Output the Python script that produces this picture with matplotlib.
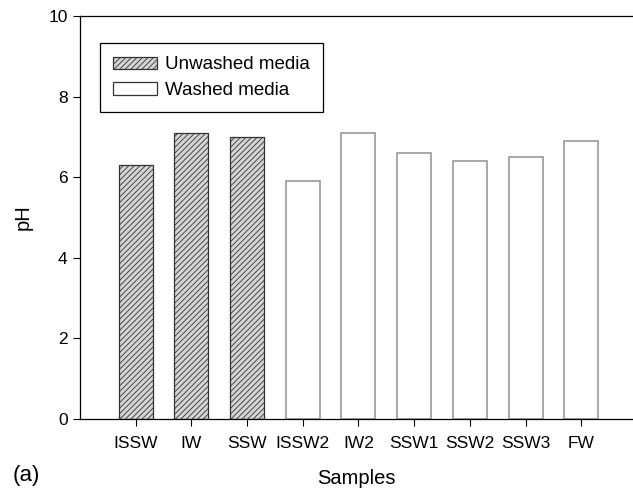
import matplotlib
matplotlib.use("Agg")
import matplotlib.pyplot as plt
from matplotlib.patches import Patch

plt.rcParams["font.family"] = ["Liberation Sans", "DejaVu Sans"]
plt.rcParams["hatch.linewidth"] = 0.6
plt.rcParams["hatch.color"] = "#3a3a3a"

# --- data ---
unwashed_samples = ["ISSW", "IW", "SSW"]
unwashed_ph = [6.3, 7.1, 7.0]
washed_samples = ["ISSW2", "IW2", "SSW1", "SSW2", "SSW3", "FW"]
washed_ph = [5.9, 7.1, 6.6, 6.4, 6.5, 6.9]
y_ticks = [0, 2, 4, 6, 8, 10]

FONT_TICK = 12.5
FONT_LABEL = 14.5
FONT_LEG = 13.5

fig = plt.figure(figsize=(6.33, 4.92), dpi=100)
ax = fig.add_axes([0.1264, 0.1484, 0.8736, 0.8191])

labels = unwashed_samples + washed_samples
pos_u = list(range(len(unwashed_samples)))
pos_w = list(range(len(unwashed_samples), len(labels)))

ax.bar(pos_u, unwashed_ph, width=0.61, color="#d4d4d4", edgecolor="#333333",
       hatch="//////", linewidth=0.9, label="Unwashed media")
ax.bar(pos_w, washed_ph, width=0.61, color="white", edgecolor="#9a9a9a",
       linewidth=1.2, label="Washed media")

ax.set_xlim(-1.0, 8.93)
ax.set_ylim(0, 10)
ax.set_xticks(range(len(labels)))
ax.set_xticklabels(labels, fontsize=FONT_TICK)
ax.set_yticks(y_ticks)
ax.set_yticklabels([str(t) for t in y_ticks], fontsize=FONT_TICK)
ax.tick_params(direction="out", length=5, width=0.8, pad=4)
ax.tick_params(axis="x", pad=7)
ax.spines["right"].set_visible(False)
for s in ["left", "top", "bottom"]:
    ax.spines[s].set_linewidth(0.9)

ax.set_ylabel("pH", fontsize=FONT_LABEL, labelpad=11)
ax.set_xlabel("Samples", fontsize=FONT_LABEL, labelpad=13)
fig.text(0.02, 0.022, "(a)", fontsize=16)

handles = [
    Patch(facecolor="#d4d4d4", edgecolor="#333333", hatch="//////", linewidth=0.9),
    Patch(facecolor="white", edgecolor="#333333", linewidth=0.9),
]
leg = ax.legend(handles, ["Unwashed media", "Washed media"], loc="upper left",
                bbox_to_anchor=(0.036, 0.933), borderaxespad=0, fontsize=FONT_LEG,
                frameon=True, fancybox=False, edgecolor="black", framealpha=1,
                handlelength=2.35, handleheight=0.65, borderpad=0.72,
                labelspacing=0.45, handletextpad=0.4)
leg.get_frame().set_linewidth(0.9)

fig.savefig("out.png", dpi=100)
